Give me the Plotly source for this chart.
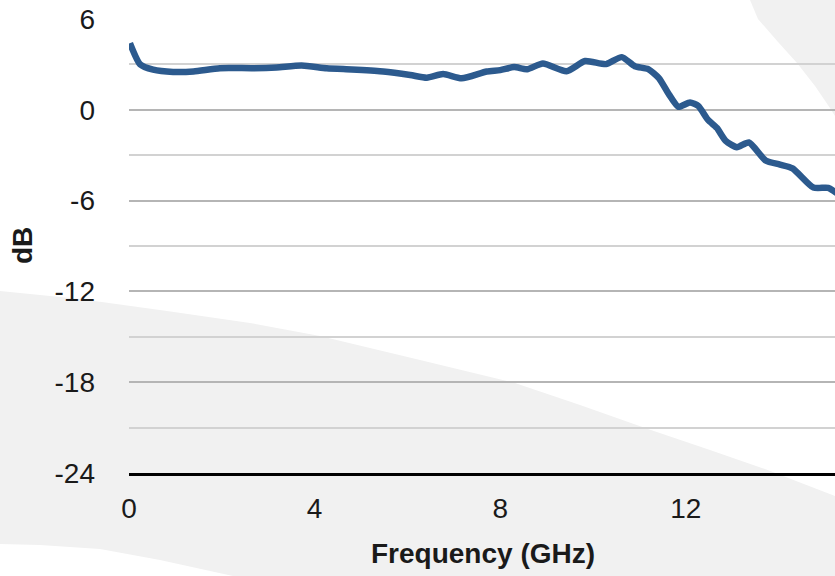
import plotly.graph_objects as go

# ---- data ----
freq_ghz = [0.02, 0.24, 0.52, 0.95, 1.39, 1.96, 2.68, 3.18, 3.72, 4.26, 4.80,
            5.48, 6.06, 6.42, 6.77, 7.17, 7.71, 8.00, 8.30, 8.58, 8.92, 9.43,
            9.83, 10.28, 10.62, 10.90, 11.19, 11.42, 11.64, 11.84, 12.09, 12.27,
            12.48, 12.67, 12.86, 13.10, 13.36, 13.72, 14.03, 14.30, 14.75, 15.07, 15.25]
gain_db = [4.4, 3.0, 2.65, 2.5, 2.53, 2.75, 2.75, 2.8, 2.92, 2.75, 2.66,
           2.53, 2.3, 2.12, 2.36, 2.08, 2.53, 2.62, 2.82, 2.68, 3.06, 2.55,
           3.22, 3.02, 3.48, 2.88, 2.69, 2.1, 1.0, 0.2, 0.48, 0.25,
           -0.67, -1.2, -2.05, -2.47, -2.16, -3.35, -3.62, -3.87, -5.14, -5.16, -5.5]
x_ticks = [0, 4, 8, 12]
y_ticks = [6, 0, -6, -12, -18, -24]

W, H = 835, 576
ML, MR, MT, MB = 129, 0, 19, 103
PW, PH = W - ML - MR, H - MT - MB


def px(xp, yp):
    return (xp - ML) / PW, (H - MB - yp) / PH


def path(points):
    pts = [px(a, b) for a, b in points]
    return "M " + " L ".join(f"{a:.4f},{b:.4f}" for a, b in pts) + " Z"


top_right = [(748, -10), (750, 0), (758, 19), (778, 42), (797, 63), (815, 86),
             (830, 108), (835, 116), (850, 135), (850, -10)]
bottom_band = [(-10, 290), (0, 291), (80, 299), (167, 311), (250, 323), (320, 336),
               (420, 360), (515, 383), (580, 405), (648, 429), (710, 450), (765, 469),
               (835, 496), (850, 502), (850, 720), (400, 620), (300, 592), (233, 576),
               (160, 560), (100, 549), (40, 545), (0, 544), (-10, 544)]

fig = go.Figure()
fig.add_trace(go.Scatter(
    x=freq_ghz, y=gain_db, mode="lines",
    line=dict(color="#2c5a8e", width=6.5, shape="spline", smoothing=0.6),
    showlegend=False,
))

shapes = []
for pts in (top_right, bottom_band):
    shapes.append(dict(type="path", xref="paper", yref="paper", path=path(pts),
                       fillcolor="#f1f1f1", line=dict(width=0), layer="below"))

font = "Liberation Sans, Arial, Helvetica, sans-serif"
fig.update_layout(
    width=W, height=H,
    margin=dict(l=ML, r=MR, t=MT, b=MB, pad=0),
    paper_bgcolor="white", plot_bgcolor="rgba(0,0,0,0)",
    shapes=shapes,
    font=dict(family=font, color="#1a1a1a"),
    xaxis=dict(range=[0, PW / 46.4], tickvals=x_ticks, ticktext=[str(v) for v in x_ticks],
               showgrid=False, zeroline=False, showline=True, linecolor="#000000",
               linewidth=2.5, ticks="", tickfont=dict(size=28, family=font, color="#1a1a1a"),
               ticklabelstandoff=9),
    yaxis=dict(range=[-24, 6], tickvals=y_ticks, ticktext=[str(v) for v in y_ticks],
               showgrid=True, gridcolor="#b5b5b5", gridwidth=2, zeroline=False,
               showline=False, ticks="", tickfont=dict(size=28, family=font, color="#1a1a1a"),
               ticklabelstandoff=33,
               minor=dict(dtick=3, tick0=0, showgrid=True, gridcolor="#d2d2d2", gridwidth=1.5)),
    annotations=[
        dict(text="<b>Frequency (GHz)</b>", xref="paper", yref="paper",
             x=px(483, 553)[0], y=px(483, 553)[1], xanchor="center", yanchor="middle",
             showarrow=False, font=dict(size=28, family=font, color="#1a1a1a")),
        dict(text="<b>dB</b>", xref="paper", yref="paper",
             x=px(22, 245)[0], y=px(22, 245)[1], xanchor="center", yanchor="middle",
             textangle=-90, showarrow=False, font=dict(size=28, family=font, color="#1a1a1a")),
    ],
)

fig.write_html("out.html", config={"displayModeBar": False},
               post_script="document.body.style.margin='0';document.body.style.overflow='hidden';")
